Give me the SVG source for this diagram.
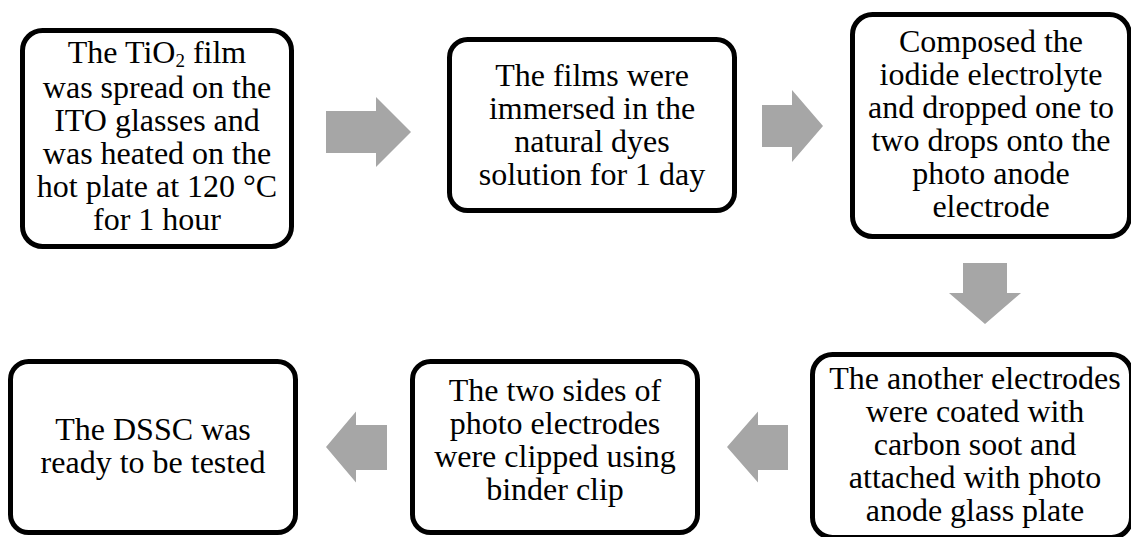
<svg xmlns="http://www.w3.org/2000/svg" width="1131" height="537" viewBox="0 0 1131 537">
<style>
.box{fill:#ffffff;stroke:#000000;stroke-width:5}
.t{font-family:"Liberation Serif","Times New Roman",serif;font-size:32px;fill:#000000;text-anchor:middle}
.arr{fill:#a6a6a6;stroke:none}
</style>
<rect width="1131" height="537" fill="#ffffff"/>
<g id="connectors">
<path class="arr" d="M326,111 H376 V97 L411,132 L376,167 V153 H326 Z"/>
<path class="arr" d="M762,105 H792 V90 L823,126 L792,162 V147 H762 Z"/>
<path class="arr" d="M963,263 H1007 V293 H1021 L985,324 L949,293 H963 Z"/>
<path class="arr" d="M788,425 H758 V411.5 L727,447 L758,482.5 V470 H788 Z"/>
<path class="arr" d="M387,425 H356 V411.5 L326,447 L356,482.5 V470 H387 Z"/>
</g>
<g id="node1">
<rect class="box" x="22.5" y="30.5" width="269" height="216" rx="20"/>
<text class="t" x="157" y="63">The TiO<tspan font-size="19" baseline-shift="-4">2</tspan> film</text>
<text class="t" x="157" y="98">was spread on the</text>
<text class="t" x="157" y="131">ITO glasses and</text>
<text class="t" x="157" y="164">was heated on the</text>
<text class="t" x="157" y="197">hot plate at 120 °C</text>
<text class="t" x="157" y="230">for 1 hour</text>
</g>
<g id="node2">
<rect class="box" x="449.5" y="39.5" width="285" height="171" rx="18"/>
<text class="t" x="592" y="86">The films were</text>
<text class="t" x="592" y="119">immersed in the</text>
<text class="t" x="592" y="152">natural dyes</text>
<text class="t" x="592" y="185">solution for 1 day</text>
</g>
<g id="node3">
<rect class="box" x="852.5" y="14.5" width="277" height="222" rx="20"/>
<text class="t" x="991" y="52">Composed the</text>
<text class="t" x="991" y="85">iodide electrolyte</text>
<text class="t" x="991" y="118">and dropped one to</text>
<text class="t" x="991" y="151">two drops onto the</text>
<text class="t" x="991" y="184">photo anode</text>
<text class="t" x="991" y="217">electrode</text>
</g>
<g id="node4">
<rect class="box" x="812.5" y="354.5" width="319" height="183" rx="20"/>
<text class="t" x="975" y="389">The another electrodes</text>
<text class="t" x="975" y="422">were coated with</text>
<text class="t" x="975" y="455">carbon soot and</text>
<text class="t" x="975" y="488">attached with photo</text>
<text class="t" x="975" y="521">anode glass plate</text>
</g>
<g id="node5">
<rect class="box" x="412.5" y="361.5" width="285" height="171" rx="18"/>
<text class="t" x="555" y="401">The two sides of</text>
<text class="t" x="555" y="434">photo electrodes</text>
<text class="t" x="555" y="467">were clipped using</text>
<text class="t" x="555" y="500">binder clip</text>
</g>
<g id="node6">
<rect class="box" x="10.5" y="361.5" width="285" height="171" rx="18"/>
<text class="t" x="153" y="440">The DSSC was</text>
<text class="t" x="153" y="473">ready to be tested</text>
</g>
</svg>
